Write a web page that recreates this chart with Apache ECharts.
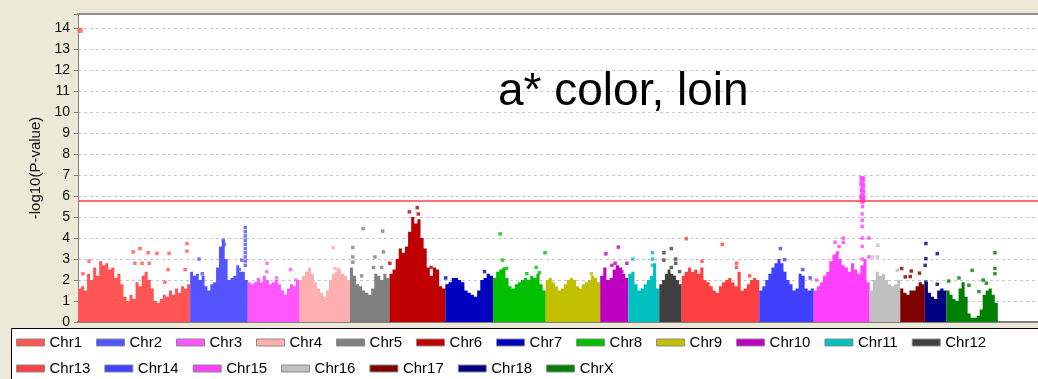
<!DOCTYPE html>
<html><head><meta charset="utf-8">
<script src="https://cdn.jsdelivr.net/npm/echarts@6/dist/echarts.min.js"></script>
<style>html,body{margin:0;padding:0;background:#ECE9D8;overflow:hidden;}#c{width:1038px;height:379px;}</style>
</head><body><div id="c"></div>
<script>
// ---- data ----
const chromosomes = ['Chr1','Chr2','Chr3','Chr4','Chr5','Chr6','Chr7','Chr8','Chr9','Chr10','Chr11','Chr12','Chr13','Chr14','Chr15','Chr16','Chr17','Chr18','ChrX'];
const chrLengthsMb = [315,162,144,143,111,157,134,148,153,79,87,63,218,153,157,86,69,61,144];
const genomeAxisMaxMb = 2697;
const threshold = 5.8;
const yMax = 14.68;
const titleText = 'a* color, loin';
const yAxisName = '-log10(P-value)';

// dense SNP band: upper envelope of -log10(P) along each chromosome (equal steps)
const env1 = [1.6,1.7,1.5,2.3,2.0,2.6,2.2,2.9,2.7,2.8,2.5,2.6,2.1,2.3,1.8,1.2,1.0,1.3,1.1,1.9,1.7,2.2,2.4,2.0,1.6,1.0,0.9,1.1,1.3,1.2,1.5,1.3,1.6,1.4,1.7,1.6,1.8];
const env2 = [2.4,2.2,2.3,2.0,2.2,1.7,1.5,1.8,1.9,2.6,3.6,3.9,3.0,2.0,2.1,2.2,2.7,2.4,2.4,2.0];
const env3 = [1.9,1.8,1.9,2.1,1.9,2.2,2.0,1.8,1.9,2.0,1.8,1.5,1.3,1.6,1.8,1.7,2.0];
const env4 = [2.0,2.2,2.4,2.6,2.3,1.9,1.6,1.4,1.2,1.5,2.0,2.3,2.4,2.5,2.3,2.2,2.0];
const env5 = [2.6,2.2,1.8,1.7,1.5,1.4,1.3,1.6,2.3,2.2,2.0,2.3,2.1];
const env6 = [2.3,2.5,3.0,3.5,3.3,3.6,4.3,5.0,4.7,4.9,4.0,3.5,2.6,2.2,2.6,2.5,1.7,1.6];
const env7 = [1.8,1.9,2.1,2.1,2.0,1.9,1.5,1.4,1.3,1.2,1.5,2.0,2.1,2.3,2.2];
const env8 = [2.1,2.4,2.5,2.6,2.1,1.7,1.6,1.8,1.9,2.0,2.1,2.0,2.2,2.1,2.3,1.8,1.5];
const env9 = [2.0,2.1,1.9,1.7,1.5,1.6,1.8,2.0,2.1,2.0,1.7,1.6,1.8,1.9,2.0,2.2,2.1,1.9];
const env10 = [2.2,2.6,2.0,2.1,2.5,2.7,2.6,2.3,2.1];
const env11 = [2.3,2.4,1.8,1.5,1.6,1.8,2.0,2.2,2.8,1.6];
const env12 = [1.8,2.0,2.3,2.5,2.3,2.2,2.0,1.8];
const env13 = [2.2,2.4,2.6,2.4,2.5,2.3,2.6,2.0,1.9,1.7,1.5,1.4,1.7,1.9,2.0,2.1,1.9,1.7,2.4,1.5,1.6,1.8,2.0,2.1,2.0];
const env14 = [1.5,1.7,2.0,2.3,2.6,2.8,3.0,2.8,2.4,2.0,1.8,1.5,1.6,2.3,2.2,1.6,1.5,1.6];
const env15 = [1.5,1.7,1.9,2.2,2.4,2.9,3.2,3.3,3.0,2.7,2.6,2.4,2.8,2.5,2.3,2.7,3.0,1.9];
const env16 = [1.5,2.0,2.4,2.2,2.3,2.0,1.8,1.7,1.8,2.0];
const env17 = [1.6,1.4,1.3,1.5,1.5,1.7,1.9,1.8];
const env18 = [1.9,1.4,1.2,1.1,1.5,1.6,1.5];
const envX = [1.5,1.3,1.1,1.0,1.6,1.9,1.2,0.4,0.2,0.2,0.3,0.6,1.3,1.5,1.6,1.3,0.9];

// isolated SNPs above the band: [position within chromosome (Mb), -log10(P)]
const top1 = [[6,13.9],[14,2.3],[31,2.9],[155,3.34],[160,2.8],[174,3.5],[180,2.8],[197,3.3],[200,2.8],[222,3.27],[244,1.9],[253,2.5],[256,3.27],[301,2.5],[306,3.74],[306,3.38]];
const top2 = [[25,3.0],[34,2.3],[93,3.9],[96,3.7],[138,2.5],[145,2.95],[155,4.5],[155,4.3],[155,4.1],[155,3.9],[155,3.7],[155,3.5],[155,3.3],[155,3.1],[155,2.9],[155,2.7]];
const top3 = [[53,2.4],[54,2.8],[81,2.1],[120,2.5],[135,2.0]];
const top4 = [[96,3.55],[101,2.55],[110,2.5]];
const top5 = [[8,3.55],[8,3.1],[8,2.85],[33,2.2],[37,4.45],[66,2.6],[70,3.1],[89,2.6],[92,4.33],[94,3.34]];
const top6 = [[1,2.8],[56,5.25],[78,5.45],[81,5.15],[117,2.6]];
const top7 = [[1,2.1],[110,2.4]];
const top8 = [[20,4.2],[27,2.95],[38,2.55],[95,2.3],[121,2.6],[130,2.35],[146,3.3]];
const top9 = [[128,2.3]];
const top10 = [[16,3.25],[33,2.7],[42,2.8],[51,3.57],[61,2.4],[75,2.8]];
const top11 = [[13,3.0],[68,3.3],[68,3.0],[68,2.7]];
const top12 = [[13,3.3],[13,2.95],[34,3.5],[34,2.6],[46,3.0],[46,2.8],[57,2.4]];
const top13 = [[13,3.97],[57,2.9],[114,3.7],[154,2.8],[154,2.6],[191,2.2]];
const top14 = [[59,3.5],[71,2.97],[122,2.5],[143,2.1]];
const top15 = [[8,2.0],[60,3.8],[67,3.3],[71,3.6],[83,4.0],[83,3.8],[135,6.85],[138,6.8],[135,6.6],[138,6.5],[136,6.3],[138,6.2],[135,6.0],[138,5.95],[136,5.85],[138,5.8],[136,5.7],[137,5.5],[136,5.15],[136,4.85],[136,4.55],[136,4.0],[136,3.6],[136,3.0],[155,4.0],[155,3.1]];
const top16 = [[8,3.1],[22,3.1],[23,3.66],[78,2.46]];
const top17 = [[4,2.55],[14,2.15],[28,2.17],[31,2.43],[54,2.33]];
const top18 = [[3,3.74],[3,3.02],[1,2.7],[3,1.9],[35,3.26],[35,1.8]];
const topX = [[6,1.95],[35,2.1],[63,1.75],[72,2.46],[91,1.45],[103,2.0],[112,1.85],[136,3.3],[136,2.55],[136,2.3]];

// ---- style ----
const chrColors = ['#FF5555','#5555FF','#FF55FF','#FFAFAF','#808080','#C00000','#0000C0','#00C000','#C0C000','#C000C0','#00C0C0','#404040','#FF4040','#4040FF','#FF40FF','#C0C0C0','#800000','#000080','#008000'];
const FONT = '"Liberation Sans", Arial, sans-serif';

const envelopes = [env1,env2,env3,env4,env5,env6,env7,env8,env9,env10,env11,env12,env13,env14,env15,env16,env17,env18,envX];
const outliers = [top1,top2,top3,top4,top5,top6,top7,top8,top9,top10,top11,top12,top13,top14,top15,top16,top17,top18,topX];

const offsets = [];
let acc = 0;
chrLengthsMb.forEach(l => { offsets.push(acc); acc += l; });

const series = [];
chromosomes.forEach((name, i) => {
  const off = offsets[i], len = chrLengthsMb[i], env = envelopes[i];
  const step = len / env.length;
  const pts = env.map((h, k) => [off + k * step, h]);
  pts.push([off + len, env[env.length - 1]]);
  const s = {
    type: 'line', name, step: 'end', data: pts, symbol: 'none', showSymbol: false,
    lineStyle: { width: 0 }, itemStyle: { color: chrColors[i] },
    areaStyle: { color: chrColors[i], opacity: 1, origin: 'start' },
    silent: true, z: 2
  };
  if (i === 0) {
    s.markLine = {
      silent: true, symbol: 'none', label: { show: false },
      lineStyle: { color: '#FF4040', width: 1.5, type: 'solid' },
      data: [{ yAxis: threshold }]
    };
  }
  series.push(s);
});
chromosomes.forEach((name, i) => {
  series.push({
    type: 'scatter', name, symbol: 'rect',
    symbolSize: v => (v[1] > 5.75 ? 5 : 3.5),
    data: outliers[i].map(p => [offsets[i] + p[0], p[1]]),
    itemStyle: { color: chrColors[i] }, silent: true, z: 3
  });
});

const legendCommon = {
  left: 16, padding: 0, orient: 'horizontal', icon: 'rect',
  itemWidth: 28, itemHeight: 7, itemGap: 14, selectedMode: false,
  itemStyle: { borderColor: '#8a8a8a', borderWidth: 1 },
  textStyle: { fontSize: 15, color: '#000', fontFamily: FONT }
};

const chart = echarts.init(document.getElementById('c'), null, { renderer: 'canvas' });
chart.setOption({
  animation: false,
  backgroundColor: '#ECE9D8',
  title: {
    text: titleText, left: 498, top: 69, padding: 0,
    textStyle: { fontSize: 46, fontWeight: 'normal', color: '#000', fontFamily: FONT }
  },
  graphic: [{
    type: 'rect', left: 11, top: 328, z: -1,
    shape: { width: 1040, height: 60 },
    style: { fill: '#FFFFFF', stroke: '#000000', lineWidth: 1 }
  }],
  legend: [
    Object.assign({}, legendCommon, { top: 335, data: chromosomes.slice(0, 12) }),
    Object.assign({}, legendCommon, { top: 361, data: chromosomes.slice(12) })
  ],
  grid: {
    left: 78, right: 0, top: 14, bottom: 57, show: true,
    backgroundColor: '#FFFFFF', borderWidth: 0
  },
  xAxis: [{
    type: 'value', min: 0, max: genomeAxisMaxMb,
    axisLine: { show: true, lineStyle: { color: '#808080', width: 2 } },
    axisTick: { show: false }, axisLabel: { show: false }, splitLine: { show: false }
  }, {
    type: 'value', position: 'top', min: 0, max: genomeAxisMaxMb,
    axisLine: { show: true, lineStyle: { color: '#909090', width: 2 } },
    axisTick: { show: false }, axisLabel: { show: false }, splitLine: { show: false }
  }],
  yAxis: {
    type: 'value', min: 0, max: yMax, interval: 1,
    name: yAxisName, nameLocation: 'middle', nameGap: 33,
    nameTextStyle: { fontSize: 15, color: '#111', fontFamily: FONT },
    axisLine: { show: true, lineStyle: { color: '#808080' } },
    axisTick: { show: true, length: 4, lineStyle: { color: '#808080' } },
    axisLabel: {
      margin: 8, fontSize: 14, color: '#111', fontFamily: FONT,
      formatter: v => (Number.isInteger(v) ? String(v) : '')
    },
    splitLine: { show: true, lineStyle: { color: '#C8C8C8', type: [3, 3], width: 1 } }
  },
  series
});
</script></body></html>
